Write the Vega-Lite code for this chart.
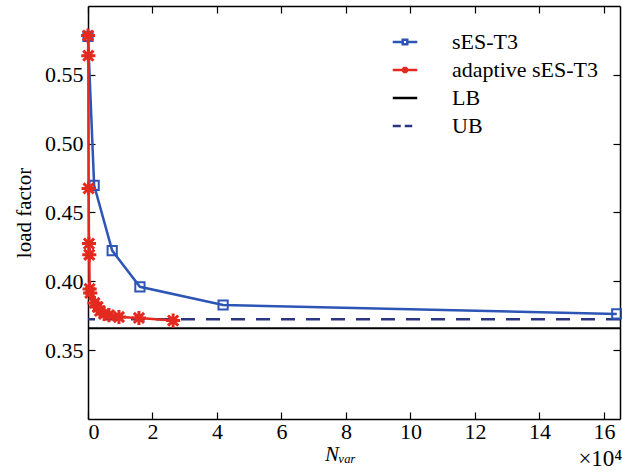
{
  "$schema": "https://vega.github.io/schema/vega-lite/v6.json",
  "width": 532,
  "height": 413,
  "autosize": {"type": "none"},
  "padding": {"left": 88, "top": 6, "right": 2, "bottom": 53},
  "background": "white",
  "config": {
    "view": {"stroke": null},
    "font": "Liberation Serif",
    "axis": {
      "grid": false,
      "labelFont": "Liberation Serif",
      "labelFontSize": 22,
      "labelColor": "black",
      "titleFont": "Liberation Serif",
      "titleFontSize": 21,
      "titleFontWeight": "normal",
      "titleColor": "black",
      "domainColor": "black",
      "domainWidth": 1.5,
      "tickColor": "black",
      "tickWidth": 1.2
    },
    "legend": {
      "labelFont": "Liberation Serif",
      "labelFontSize": 22,
      "labelColor": "black"
    },
    "title": {"font": "Liberation Serif", "fontSize": 23, "fontWeight": "normal", "color": "black"}
  },
  "title": {"text": "×10⁴", "orient": "bottom", "anchor": "end", "offset": -16, "dx": -3},
  "datasets": {
    "pts": [
      {"series": "sES-T3", "n": 0.0, "lf": 0.578},
      {"series": "sES-T3", "n": 0.19, "lf": 0.4697},
      {"series": "sES-T3", "n": 0.75, "lf": 0.4223},
      {"series": "sES-T3", "n": 1.61, "lf": 0.396},
      {"series": "sES-T3", "n": 4.19, "lf": 0.3828},
      {"series": "sES-T3", "n": 16.4, "lf": 0.3763},
      {"series": "adaptive sES-T3", "n": 0.0, "lf": 0.5785},
      {"series": "adaptive sES-T3", "n": 0.01, "lf": 0.5639},
      {"series": "adaptive sES-T3", "n": 0.02, "lf": 0.4675},
      {"series": "adaptive sES-T3", "n": 0.03, "lf": 0.4274},
      {"series": "adaptive sES-T3", "n": 0.04, "lf": 0.4193},
      {"series": "adaptive sES-T3", "n": 0.05, "lf": 0.3945},
      {"series": "adaptive sES-T3", "n": 0.07, "lf": 0.3916},
      {"series": "adaptive sES-T3", "n": 0.2, "lf": 0.3843},
      {"series": "adaptive sES-T3", "n": 0.3, "lf": 0.3814},
      {"series": "adaptive sES-T3", "n": 0.37, "lf": 0.3785},
      {"series": "adaptive sES-T3", "n": 0.5, "lf": 0.3763},
      {"series": "adaptive sES-T3", "n": 0.65, "lf": 0.3755},
      {"series": "adaptive sES-T3", "n": 0.96, "lf": 0.3741},
      {"series": "adaptive sES-T3", "n": 1.58, "lf": 0.3734},
      {"series": "adaptive sES-T3", "n": 2.64, "lf": 0.3715}
    ],
    "bounds": [
      {"series": "LB", "lf": 0.366},
      {"series": "UB", "lf": 0.3725}
    ]
  },
  "layer": [
    {
      "data": {"name": "bounds"},
      "transform": [{"filter": "datum.series == 'LB'"}],
      "mark": {"type": "rule", "color": "black", "strokeWidth": 2},
      "encoding": {
        "y": {"field": "lf", "type": "quantitative", "scale": {"domain": [0.3, 0.6], "nice": false, "zero": false}, "axis": null}
      }
    },
    {
      "data": {"name": "bounds"},
      "transform": [{"filter": "datum.series == 'UB'"}],
      "mark": {"type": "rule", "color": "#2b3580", "strokeWidth": 2.5, "strokeDash": [14, 11]},
      "encoding": {
        "y": {"field": "lf", "type": "quantitative", "axis": null}
      }
    },
    {
      "data": {"name": "pts"},
      "transform": [{"filter": "datum.series == 'sES-T3'"}],
      "mark": {"type": "line", "color": "#2c55b5", "strokeWidth": 2.5, "clip": false,
        "point": {"shape": "square", "filled": false, "size": 85, "strokeWidth": 2, "color": "#2c55b5", "opacity": 1}},
      "encoding": {
        "x": {"field": "n", "type": "quantitative", "scale": {"domain": [0, 16.5], "nice": false, "zero": false},
          "axis": {"orient": "bottom", "values": [0, 2, 4, 6, 8, 10, 12, 14, 16], "tickSize": -7, "labelPadding": 9, "title": "Nᵥₐᵣ", "titleFontStyle": "italic", "titlePadding": 1, "titleX": 252, "titleAlign": "center"}},
        "y": {"field": "lf", "type": "quantitative",
          "axis": {"orient": "left", "values": [0.35, 0.4, 0.45, 0.5, 0.55], "format": ".2f", "tickSize": -7, "labelPadding": 12, "title": "load factor", "titlePadding": 10}}
      }
    },
    {
      "data": {"name": "pts"},
      "transform": [{"filter": "datum.series == 'adaptive sES-T3'"}],
      "mark": {"type": "line", "color": "#e42a1f", "strokeWidth": 2.5, "clip": false,
        "point": {"shape": "M-1,0H1M0,-1V1M-0.72,-0.72L0.72,0.72M-0.72,0.72L0.72,-0.72", "filled": false, "size": 200, "strokeWidth": 3, "color": "#e42a1f", "opacity": 1}},
      "encoding": {
        "x": {"field": "n", "type": "quantitative",
          "axis": {"orient": "top", "values": [0, 2, 4, 6, 8, 10, 12, 14, 16], "tickSize": -7, "labels": false, "title": null}},
        "y": {"field": "lf", "type": "quantitative",
          "axis": {"orient": "right", "values": [0.35, 0.4, 0.45, 0.5, 0.55], "tickSize": -7, "labels": false, "title": null}}
      }
    },
    {
      "data": {"name": "bounds"},
      "transform": [{"filter": "datum.series == 'none'"}],
      "mark": {"type": "point", "filled": false, "strokeWidth": 2, "opacity": 1},
      "encoding": {
        "color": {"field": "series", "type": "nominal",
          "scale": {"domain": ["sES-T3", "adaptive sES-T3", "LB", "UB"], "range": ["#2c55b5", "#e42a1f", "#000000", "#2b3580"]},
          "legend": {"orient": "none", "legendX": 306, "legendY": 25, "title": null, "symbolStrokeWidth": 2.5, "symbolOpacity": 1, "rowPadding": 6, "labelOffset": 36, "symbolOffset": 0}},
        "shape": {"field": "series", "type": "nominal",
          "scale": {"domain": ["sES-T3", "adaptive sES-T3", "LB", "UB"],
            "range": [
              "M-2.45,0H-0.45M0.45,0H2.45M-0.45,-0.45H0.45V0.45H-0.45Z",
              "M-2.45,0H2.45M-0.65,0H0.65M0,-0.65V0.65M-0.47,-0.47L0.47,0.47M-0.47,0.47L0.47,-0.47",
              "M-2.45,0H2.45",
              "M-2.45,0H-0.85M-0.05,0H1.45"
            ]},
          "legend": {"orient": "none", "legendX": 306, "legendY": 25, "title": null, "symbolStrokeWidth": 2.5, "symbolOpacity": 1, "rowPadding": 6, "labelOffset": 36, "symbolOffset": 0}},
        "size": {"value": 400}
      }
    }
  ],
  "resolve": {"axis": {"x": "independent", "y": "independent"}}
}
